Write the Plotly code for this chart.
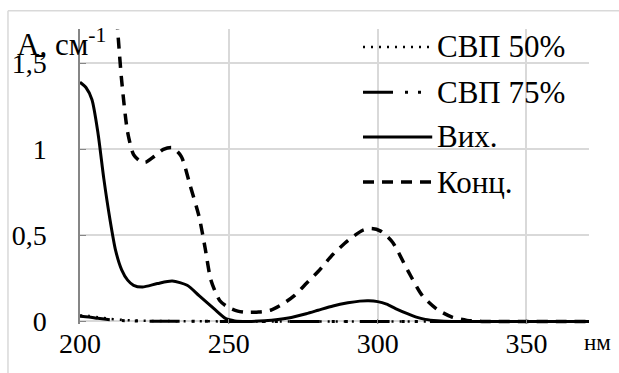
import plotly.graph_objects as go

# Wavelength grid (nm) and absorbance for each spectrum
wl_conc = [200, 205, 210, 212, 214, 216, 218, 220, 222, 225, 228, 231, 234, 237, 240, 242, 244, 247, 250, 253, 256, 260, 264, 268, 272, 276, 280, 285, 290, 295, 298, 301, 305, 310, 315, 320, 325, 330, 335, 340, 350, 360, 371]
a_conc = [3.4, 3.0, 2.35, 1.85, 1.40, 1.10, 0.97, 0.935, 0.925, 0.96, 1.0, 1.01, 0.96, 0.79, 0.61, 0.43, 0.24, 0.12, 0.08, 0.06, 0.053, 0.055, 0.065, 0.1, 0.15, 0.22, 0.29, 0.39, 0.47, 0.53, 0.54, 0.525, 0.46, 0.3, 0.15, 0.07, 0.025, 0.006, 0.0, 0.0, 0.0, 0.0, 0.0]

wl_vyh = [200, 202, 204, 206, 208, 210, 212, 214, 216, 218, 221, 226, 231, 236, 240, 245, 249, 252, 256, 262, 270, 276, 280, 285, 290, 294, 297, 300, 303, 306, 310, 313, 316, 320, 325, 330, 340, 350, 360, 371]
a_vyh = [1.39, 1.36, 1.29, 1.10, 0.83, 0.60, 0.41, 0.30, 0.24, 0.21, 0.20, 0.22, 0.235, 0.21, 0.15, 0.074, 0.016, 0.003, 0.0, 0.004, 0.02, 0.045, 0.065, 0.09, 0.108, 0.118, 0.12, 0.115, 0.1, 0.075, 0.045, 0.025, 0.012, 0.004, 0.0, 0.0, 0.0, 0.0, 0.0, 0.0]

wl_svp50 = [200, 203, 206, 210, 215, 220, 230, 250, 270, 300, 330, 371]
a_svp50 = [0.035, 0.032, 0.025, 0.015, 0.008, 0.004, 0.002, 0.0, 0.0, 0.0, 0.0, 0.0]

wl_svp75 = [200, 203, 206, 210, 215, 220, 230, 250, 270, 300, 330, 371]
a_svp75 = [0.03, 0.026, 0.018, 0.01, 0.004, 0.002, 0.001, 0.0, 0.0, 0.0, 0.0, 0.0]

series_names = ["СВП 50%", "СВП 75%", "Вих.", "Конц."]

x_ticks = [200, 250, 300, 350]
y_ticks = [0, 0.5, 1, 1.5]
y_tick_text = ["0", "0,5", "1", "1,5"]

FONT = "Liberation Serif, Times New Roman, serif"
FS = 28
FS_BIG = 31

styles = [
    dict(color="black", width=2.5, dash="2px,6px"),
    dict(color="black", width=3, dash="30px,12px,3px,10px,3px,12px"),
    dict(color="black", width=3),
    dict(color="black", width=3.5, dash="11px,8px"),
]
data = [(wl_svp50, a_svp50), (wl_svp75, a_svp75), (wl_vyh, a_vyh), (wl_conc, a_conc)]

fig = go.Figure()
for (xs, ys), name, st in zip(data, series_names, styles):
    fig.add_trace(go.Scatter(x=xs, y=ys, name=name, mode="lines", showlegend=False,
                             line=dict(shape="spline", smoothing=0.7, **st)))

# legend: line sample + label for each series
legend_y = [0.939, 0.786, 0.634, 0.481]
for name, st, ly in zip(series_names, styles, legend_y):
    fig.add_shape(type="line", xref="paper", yref="paper",
                  x0=0.556, x1=0.692, y0=ly, y1=ly, line=st)
    fig.add_annotation(text=name, xref="paper", yref="paper", x=0.698, y=ly,
                       xanchor="left", yanchor="middle", showarrow=False,
                       font=dict(family=FONT, size=FS_BIG, color="black"))

# outer frame of the chart area (top and left edges)
fig.add_shape(type="line", xref="paper", yref="paper", x0=-0.1415, x1=1.2, y0=1.062, y1=1.062,
              line=dict(color="#d9d9d9", width=1.5), layer="below")
fig.add_shape(type="line", xref="paper", yref="paper", x0=-0.1415, x1=-0.1415, y0=-0.3, y1=1.062,
              line=dict(color="#d9d9d9", width=1.5), layer="below")

fig.add_annotation(text="A, см<sup>-1</sup>", xref="paper", yref="paper",
                   x=-0.128, y=0.955, xanchor="left", yanchor="middle", showarrow=False,
                   font=dict(family=FONT, size=FS_BIG, color="black"))
fig.add_annotation(text="нм", xref="paper", yref="paper",
                   x=1.016, y=-0.062, xanchor="center", yanchor="middle", showarrow=False,
                   font=dict(family=FONT, size=23, color="black"))

fig.update_layout(
    width=619, height=373,
    margin=dict(l=80, r=30, t=29, b=49),
    paper_bgcolor="white", plot_bgcolor="white",
    font=dict(family=FONT, size=FS, color="black"),
    showlegend=False,
    xaxis=dict(range=[200, 371], tickvals=x_ticks, showgrid=True, gridcolor="#d9d9d9", gridwidth=1.5,
               zeroline=False, showline=False, ticks="inside", ticklen=5, tickcolor="#868686",
               ticklabelstandoff=0, tickfont=dict(family=FONT, size=FS)),
    yaxis=dict(range=[-0.015, 1.7], tickvals=y_ticks, ticktext=y_tick_text, showgrid=True,
               gridcolor="#d9d9d9", gridwidth=1.5, zeroline=False, showline=True,
               linecolor="#868686", linewidth=1.5, ticks="inside", ticklen=6, tickcolor="#868686",
               ticklabelstandoff=26, tickfont=dict(family=FONT, size=FS)),
)

fig.write_html("out.html")
